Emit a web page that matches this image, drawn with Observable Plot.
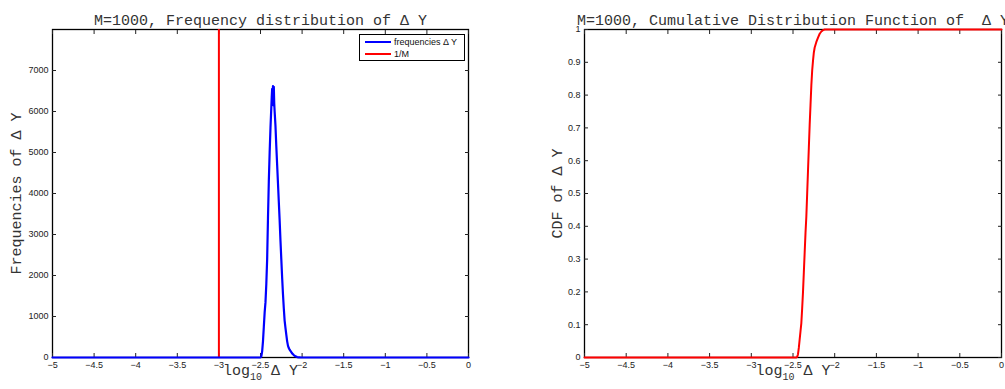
<!DOCTYPE html>
<html><head><meta charset="utf-8">
<script src="https://cdn.jsdelivr.net/npm/d3@7"></script>
<script src="https://cdn.jsdelivr.net/npm/@observablehq/plot@0.6"></script>
<style>
html,body{margin:0;padding:0;background:#fff}
body{width:1005px;height:389px;overflow:hidden;position:relative;font-family:"Liberation Sans",Arial,sans-serif}
#left{position:absolute;left:0;top:0}
#right{position:absolute;left:500px;top:0}
.legend{position:absolute;left:359px;top:34px;width:104px;height:25px;border:1px solid #000;background:#fff;font:9px "Liberation Sans",Arial,sans-serif;color:#111}
.legend .ln{position:absolute;left:5px;width:26px;height:2px}
.legend .tx{position:absolute;left:34px;line-height:10px;white-space:nowrap}
</style></head><body>
<div id="left"></div><div id="right"></div>
<div class="legend">
  <div class="ln" style="top:6px;background:#0000ff"></div><div class="tx" style="top:2px">frequencies Δ Y</div>
  <div class="ln" style="top:18px;background:#ff0000"></div><div class="tx" style="top:14px">1/M</div>
</div>
<script>
// ---- data ----
const xTicks = [-5, -4.5, -4, -3.5, -3, -2.5, -2, -1.5, -1, -0.5, 0];
const freqTicks = [0, 1000, 2000, 3000, 4000, 5000, 6000, 7000];
const cdfTicks = [0, 0.1, 0.2, 0.3, 0.4, 0.5, 0.6, 0.7, 0.8, 0.9, 1];
const invM = [-3]; // log10(1/M), M = 1000

const freqX = [-5, -2.50, -2.49, -2.48, -2.47, -2.46, -2.45, -2.44, -2.43, -2.42, -2.41, -2.40, -2.39, -2.38, -2.37,
  -2.365, -2.36, -2.355, -2.35, -2.345, -2.34, -2.335, -2.33, -2.32, -2.31, -2.30, -2.29, -2.28, -2.27, -2.26, -2.25,
  -2.24, -2.23, -2.22, -2.21, -2.20, -2.19, -2.18, -2.17, -2.16, -2.15, -2.14, -2.13, -2.12, -2.10, -2.08, -2.06,
  -2.04, -2.02, -1.95, 0];
const freqY = [0, 0, 30, 150, 400, 750, 1100, 1350, 1800, 2400, 3400, 4300, 5000, 5600, 6100,
  6350, 6550, 6300, 6620, 6150, 6600, 6200, 6000, 5650, 5150, 4700, 4250, 3800, 3350, 2850, 2400,
  1950, 1550, 1200, 900, 720, 560, 400, 290, 230, 190, 160, 130, 100, 60, 30, 10,
  4, 2, 0, 0];

const cdfX = [-5, -2.46, -2.45, -2.44, -2.43, -2.42, -2.41, -2.40, -2.39, -2.38, -2.37, -2.36, -2.35, -2.34, -2.33,
  -2.32, -2.31, -2.30, -2.29, -2.28, -2.27, -2.26, -2.25, -2.24, -2.22, -2.20, -2.18, -2.16, -2.14, -2.12, 0];
const cdfY = [0, 0, 0.002, 0.01, 0.03, 0.055, 0.08, 0.105, 0.15, 0.2, 0.26, 0.32, 0.38, 0.43, 0.5,
  0.57, 0.64, 0.71, 0.77, 0.83, 0.875, 0.905, 0.93, 0.945, 0.962, 0.975, 0.987, 0.994, 0.998, 1, 1];

const freqData = freqX.map((x, i) => ({x, y: freqY[i]}));
const cdfData = cdfX.map((x, i) => ({x, y: cdfY[i]}));

const mono = "Liberation Mono, DejaVu Sans Mono, monospace";
const fmt = d3.format("");

function frameAxes(yTicks) {
  return [
    Plot.frame({stroke: "#000", strokeWidth: 1.3}),
    Plot.axisX(xTicks, {anchor: "bottom", tickSize: -4, tickPadding: 8, tickFormat: fmt, label: null}),
    Plot.axisX(xTicks, {anchor: "top", tickSize: -4, tickFormat: () => "", label: null}),
    Plot.axisY(yTicks, {anchor: "left", tickSize: -4, tickPadding: 8, tickFormat: fmt, label: null}),
    Plot.axisY(yTicks, {anchor: "right", tickSize: -4, tickFormat: () => "", label: null})
  ];
}

function labels(title, ylab, ydx) {
  return [
    Plot.text([title], {text: d => d, frameAnchor: "top", textAnchor: "middle", dy: -15.3, fontFamily: mono, fontSize: 15, fill: "#333"}),
    Plot.text(["log10 Δ Y"], {text: d => d, frameAnchor: "bottom", textAnchor: "middle", dy: 17.2, fontFamily: mono, fontSize: 15, fill: "#333"}),
    Plot.text([ylab], {text: d => d, frameAnchor: "left", textAnchor: "middle", rotate: -90, dx: ydx, fontFamily: mono, fontSize: 15, fill: "#333"})
  ];
}

function subscript(svg) {
  d3.select(svg).selectAll("text").filter(function () { return this.textContent === "log10 Δ Y"; }).each(function () {
    const t = d3.select(this);
    t.text(null);
    t.append("tspan").text("log");
    t.append("tspan").attr("font-size", 10).attr("dy", 5).text("10");
    t.append("tspan").attr("dy", -5).text("\u00a0Δ Y");
  });
  return svg;
}

const style = {fontFamily: "Liberation Sans, Arial, sans-serif", fontSize: "9px", color: "#222", background: "transparent", overflow: "hidden"};

const left = Plot.plot({
  width: 500, height: 389,
  marginLeft: 52, marginRight: 32, marginTop: 29, marginBottom: 32,
  style,
  x: {domain: [-5, 0]},
  y: {domain: [0, 8000]},
  marks: [
    ...frameAxes(freqTicks),
    Plot.ruleX(invM, {x: d => d, stroke: "#ff0000", strokeWidth: 2}),
    Plot.line(freqData, {x: "x", y: "y", stroke: "#0000ff", strokeWidth: 2.2}),
    ...labels("M=1000, Frequency distribution of Δ Y", "Frequencies of Δ Y", -36.3)
  ]
});
document.getElementById("left").appendChild(subscript(left));

const right = Plot.plot({
  width: 505, height: 389,
  marginLeft: 84, marginRight: 4, marginTop: 29, marginBottom: 32,
  style,
  x: {domain: [-5, 0]},
  y: {domain: [0, 1]},
  marks: [
    ...frameAxes(cdfTicks),
    Plot.line(cdfData, {x: "x", y: "y", stroke: "#ff0000", strokeWidth: 2}),
    ...labels("M=1000, Cumulative Distribution Function of \u00a0Δ Y", "CDF of Δ Y", -27)
  ]
});
document.getElementById("right").appendChild(subscript(right));
</script>
</body></html>
